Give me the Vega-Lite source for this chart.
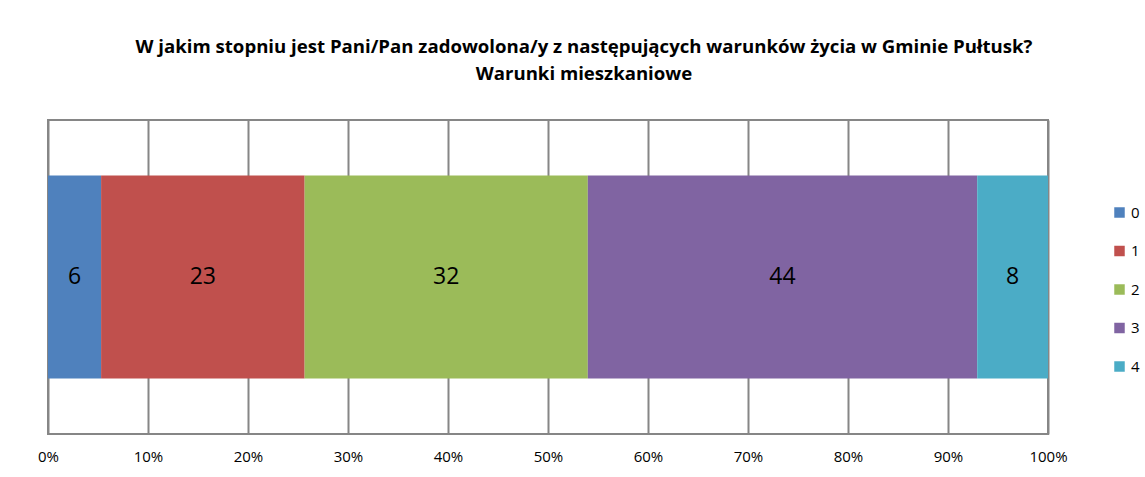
{
  "$schema": "https://vega.github.io/schema/vega-lite/v6.json",
  "width": 1000,
  "height": 314,
  "autosize": "none",
  "padding": {"left": 48, "top": 120, "right": 97, "bottom": 43},
  "background": "white",
  "title": {
    "text": ["W jakim stopniu jest Pani/Pan zadowolona/y z następujących warunków życia w Gminie Pułtusk?", "Warunki mieszkaniowe"],
    "font": "Open Sans",
    "fontSize": 18.6,
    "fontWeight": "bold",
    "color": "#000000",
    "lineHeight": 27,
    "anchor": "middle",
    "dx": 36,
    "offset": 36
  },
  "data": {
    "values": [
      {"cat": "0", "value": 6},
      {"cat": "1", "value": 23},
      {"cat": "2", "value": 32},
      {"cat": "3", "value": 44},
      {"cat": "4", "value": 8}
    ]
  },
  "transform": [
    {"stack": "value", "groupby": [], "sort": [{"field": "cat", "order": "ascending"}], "offset": "normalize", "as": ["v0", "v1"]},
    {"calculate": "(datum.v0 + datum.v1) / 2", "as": "mid"}
  ],
  "config": {
    "view": {"stroke": "#868686", "strokeWidth": 2},
    "font": "Open Sans"
  },
  "layer": [
    {
      "mark": {"type": "bar", "size": 203},
      "encoding": {
        "x": {
          "field": "v0", "type": "quantitative",
          "scale": {"domain": [0, 1], "nice": false},
          "axis": {
            "values": [0, 0.1, 0.2, 0.3, 0.4, 0.5, 0.6, 0.7, 0.8, 0.9, 1],
            "format": ".0%",
            "title": null,
            "grid": true,
            "gridColor": "#868686",
            "gridWidth": 2,
            "gridOpacity": 1,
            "domain": false,
            "ticks": false,
            "labelFlush": false,
            "labelPadding": 15,
            "labelFontSize": 15,
            "labelColor": "#000000",
            "labelFont": "Open Sans"
          }
        },
        "x2": {"field": "v1"},
        "color": {
          "field": "cat", "type": "nominal",
          "scale": {"domain": ["0", "1", "2", "3", "4"], "range": ["#4F81BD", "#C0504D", "#9BBB59", "#8064A2", "#4BACC6"]},
          "legend": {
            "title": null,
            "orient": "none",
            "legendX": 1064,
            "legendY": 85,
            "symbolType": "square",
            "symbolSize": 110,
            "symbolStrokeWidth": 0,
            "labelFontSize": 15,
            "labelColor": "#000000",
            "labelFont": "Open Sans",
            "rowPadding": 22.5,
            "labelOffset": 4
          }
        }
      }
    },
    {
      "mark": {"type": "text", "fontSize": 23, "color": "#000000", "font": "Open Sans", "baseline": "middle", "align": "center"},
      "encoding": {
        "x": {"field": "mid", "type": "quantitative"},
        "text": {"field": "value", "type": "quantitative"}
      }
    }
  ]
}
